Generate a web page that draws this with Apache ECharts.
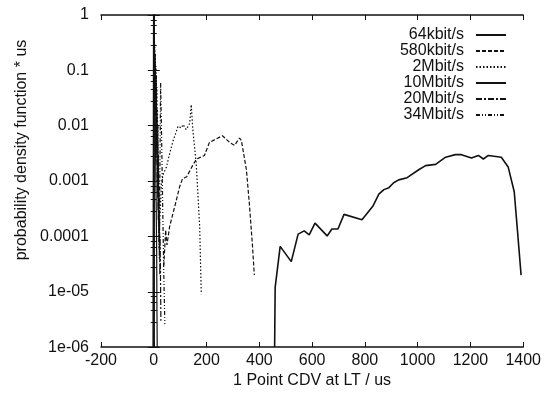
<!DOCTYPE html>
<html>
<head>
<meta charset="utf-8">
<script src="https://cdn.jsdelivr.net/npm/echarts@6/dist/echarts.min.js"></script>
<style>
  html, body { margin: 0; padding: 0; background: #fff; }
  #chart { width: 544px; height: 394px; }
</style>
</head>
<body>
<div id="chart"></div>
<script>
// tick labels
const xTicks = { min: -200, max: 1400, step: 200 };
const yTickLabels = ["1e-06", "1e-05", "0.0001", "0.001", "0.01", "0.1", "1"];

// series, [CDV in us, pdf * us]
const names = ["64kbit/s", "580kbit/s", "2Mbit/s", "10Mbit/s", "20Mbit/s", "34Mbit/s"];

const s64k = [[458, 1e-6], [460, 1.2e-5], [479, 6.6e-5], [521, 3.5e-5], [547, 1.1e-4], [570, 1.26e-4],
  [589, 1.07e-4], [611, 1.74e-4], [657, 1.02e-4], [675, 1.36e-4], [698, 1.36e-4], [721, 2.5e-4],
  [789, 2.0e-4], [830, 3.5e-4], [853, 5.8e-4], [872, 7e-4], [891, 7.6e-4], [909, 9.3e-4],
  [928, 1.05e-3], [960, 1.15e-3], [1004, 1.6e-3], [1030, 1.9e-3], [1068, 2.0e-3], [1106, 2.7e-3],
  [1143, 3.0e-3], [1166, 3.0e-3], [1204, 2.6e-3], [1230, 2.9e-3], [1249, 2.5e-3], [1268, 2.9e-3],
  [1317, 2.7e-3], [1343, 1.8e-3], [1366, 6.4e-4], [1377, 1.5e-4], [1392, 2e-5]];

const s580k = [[38, 3e-5], [45, 1.3e-4], [50, 7e-5], [60, 1.5e-4], [87, 4.8e-4], [98, 7.9e-4],
  [109, 1.1e-3], [125, 1.2e-3], [147, 1.9e-3], [162, 2.5e-3], [192, 2.9e-3], [211, 5e-3],
  [260, 6.6e-3], [287, 5e-3], [306, 4.4e-3], [325, 6e-3], [332, 5.4e-3], [351, 1.6e-3],
  [362, 4e-4], [374, 6.8e-5], [381, 2e-5]];

const s2M = [[0, 0.9], [1, 0.2], [2, 0.5], [3, 0.1], [4, 0.3], [5, 0.06], [6, 0.2], [7, 0.03],
  [8, 0.12], [9, 0.02], [10, 0.08], [11, 0.01], [12, 0.05], [13, 0.004], [14, 0.02], [15, 0.002],
  [16, 0.01], [17, 8e-4], [18, 3e-3], [19, 3e-4], [20, 1e-4], [29, 9e-4], [35, 1.3e-3], [48, 1.8e-3],
  [60, 3.1e-3], [73, 5.3e-3], [86, 8e-3], [92, 9.8e-3], [105, 9.1e-3], [111, 1.05e-2],
  [123, 8.5e-3], [136, 1.1e-2], [142, 2.4e-2], [148, 8.5e-3], [161, 2e-3], [174, 1.5e-4], [180, 9e-6]];

const s10M = [[-3, 1e-6], [-1, 0.95], [1, 0.4], [3, 0.1], [5, 0.02], [7, 3e-3], [9, 4e-4],
  [11, 5e-5], [12, 5e-6], [13, 1e-6]];

const s20M = [[0, 0.6], [1, 0.1], [2, 0.3], [3, 0.05], [4, 0.2], [5, 0.03], [6, 0.12], [7, 0.015],
  [8, 0.06], [9, 0.008], [10, 0.04], [11, 3e-3], [12, 0.015], [13, 1e-3], [14, 6e-3], [15, 5e-4],
  [16, 3e-3], [17, 2e-4], [18, 1.5e-3], [19, 8e-5], [20, 6e-4], [21, 4e-5], [22, 2e-4],
  [23, 2e-5], [24, 1e-4], [26, 1e-5], [27, 3e-6]];

const s34M = [[1, 0.35], [2, 0.06], [3, 0.25], [4, 0.04], [5, 0.15], [6, 0.02], [7, 0.08],
  [8, 6e-3], [9, 0.05], [10, 4e-3], [11, 0.02], [12, 2e-3], [13, 0.01], [14, 6e-4], [15, 5e-3],
  [16, 3e-4], [17, 2e-3], [18, 1.5e-4], [19, 8e-4], [20, 6e-5], [22, 3e-4], [26, 0.06],
  [30, 5e-3], [34, 3e-4], [38, 2e-5], [42, 2.6e-6]];

const dashes = ["solid", [4, 2], [1.5, 2], "solid", [6, 2, 2, 2], [4, 2, 1, 2, 1, 2]];
const widths = [1.6, 1.2, 1.2, 1.2, 1.2, 1.2];
const allData = [s64k, s580k, s2M, s10M, s20M, s34M];

const FONT = "Liberation Sans";
const INK = "#111";

const chart = echarts.init(document.getElementById("chart"));

function yLabel(v) {
  const i = Math.round(Math.log10(v)) + 6;
  return yTickLabels[i] || "";
}

const tickStyle = { color: INK, width: 1 };
const baseX = {
  type: "value",
  min: xTicks.min,
  max: xTicks.max,
  interval: xTicks.step,
  splitLine: { show: false },
  axisLine: { show: true, onZero: false, lineStyle: { color: INK, width: 1.5 } },
  axisTick: { inside: true, length: 5, lineStyle: tickStyle }
};
const baseY = {
  type: "log",
  logBase: 10,
  min: 1e-6,
  max: 1,
  splitNumber: 6,
  splitLine: { show: false },
  axisLine: { show: true, lineStyle: { color: INK, width: 1.5 } },
  axisTick: { inside: true, length: 6, lineStyle: tickStyle },
  minorTick: { show: true, splitNumber: 5, length: 3, lineStyle: tickStyle }
};

chart.setOption({
  animation: false,
  backgroundColor: "#fff",
  textStyle: { fontFamily: FONT, color: INK },
  grid: { left: 101, right: 18, top: 15, bottom: 40 },
  legend: {
    orient: "vertical",
    right: 32,
    top: 22,
    align: "right",
    itemWidth: 30,
    itemHeight: 10,
    itemGap: 0,
    itemStyle: { opacity: 0 },
    textStyle: { fontFamily: FONT, fontSize: 16, lineHeight: 16, color: INK, padding: [0, 7, 0, 0] },
    data: names
  },
  xAxis: [
    Object.assign({}, baseX, {
      position: "bottom",
      name: "1 Point CDV at LT / us",
      nameLocation: "middle",
      nameGap: 20,
      nameTextStyle: { fontFamily: FONT, fontSize: 16, color: INK },
      axisLabel: { fontFamily: FONT, fontSize: 16, color: INK, margin: 5, formatter: (v) => String(v) }
    }),
    Object.assign({}, baseX, { position: "top", axisLabel: { show: false } })
  ],
  yAxis: [
    Object.assign({}, baseY, {
      position: "left",
      axisLabel: { fontFamily: FONT, fontSize: 16, color: INK, margin: 12, formatter: yLabel }
    }),
    Object.assign({}, baseY, { position: "right", axisLabel: { show: false } })
  ],
  graphic: [{
    type: "text",
    x: 22,
    y: 150,
    rotation: Math.PI / 2,
    style: {
      text: "probability density function * us",
      fontFamily: FONT,
      fontSize: 16,
      fill: INK,
      align: "center",
      verticalAlign: "middle"
    }
  }],
  series: allData.map((d, i) => ({
    name: names[i],
    type: "line",
    data: d,
    symbol: "none",
    clip: true,
    color: INK,
    lineStyle: { color: INK, width: widths[i], type: dashes[i] }
  }))
});
</script>
</body>
</html>
